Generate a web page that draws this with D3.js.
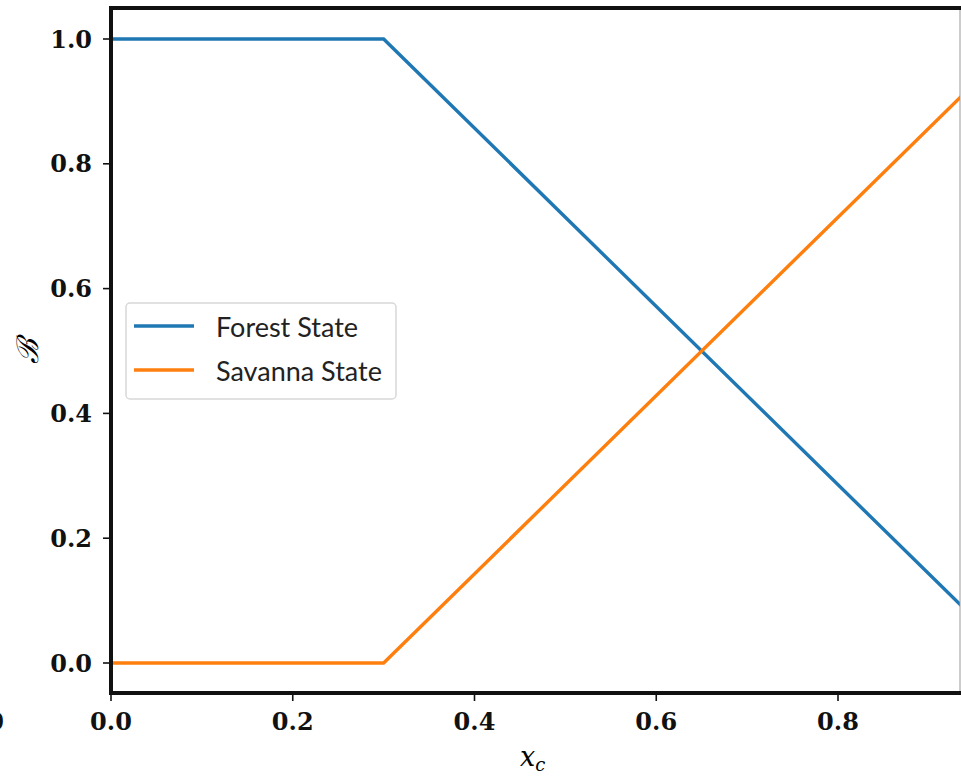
<!DOCTYPE html>
<html>
<head>
<meta charset="utf-8">
<script src="https://cdn.jsdelivr.net/npm/d3@7"></script>
<style>
  html, body { margin: 0; padding: 0; background: #fff; }
  svg { display: block; }
  .tick-lbl { font-family: "DejaVu Serif", serif; font-weight: bold; font-size: 24px; fill: #111; }
  .leg { font-family: Lato, "Open Sans", sans-serif; font-size: 27px; fill: #222; }
</style>
</head>
<body>
<svg id="c" width="961" height="778"></svg>
<script>
// data
const xc       = [0, 0.3, 1.0];
const forest   = [1, 1, 0];
const savanna  = [0, 0, 1];
const xTicks   = [0, 0.2, 0.4, 0.6, 0.8];
const yTicks   = [0, 0.2, 0.4, 0.6, 0.8, 1.0];
const series   = [
  { name: 'Forest State',  vals: forest,  color: '#1f77b4' },
  { name: 'Savanna State', vals: savanna, color: '#ff7f0e' }
];

const svg = d3.select('#c');
const L = 111, R = 960, T = 8, B = 693;

const x = d3.scaleLinear().domain([0, 0.8]).range([L, 838]);
const y = d3.scaleLinear().domain([0, 1]).range([663, 39]);

svg.append('clipPath').attr('id', 'pane')
  .append('rect').attr('x', L).attr('y', T).attr('width', R - L).attr('height', B - T);

const line = d3.line().x((d, i) => x(xc[i])).y(d => y(d));
const g = svg.append('g').attr('clip-path', 'url(#pane)');
series.forEach(s => {
  g.append('path').datum(s.vals)
    .attr('fill', 'none').attr('stroke', s.color).attr('stroke-width', 3.4)
    .attr('stroke-linejoin', 'miter').attr('d', line);
});

// ticks + labels
yTicks.forEach(v => {
  svg.append('line').attr('x1', L - 8).attr('x2', L).attr('y1', y(v)).attr('y2', y(v))
    .attr('stroke', '#111').attr('stroke-width', 1.6);
  svg.append('text').attr('class', 'tick-lbl').attr('x', 92).attr('y', y(v))
    .attr('text-anchor', 'end').attr('dominant-baseline', 'central').text(v.toFixed(1));
});
xTicks.forEach(v => {
  svg.append('line').attr('x1', x(v)).attr('x2', x(v)).attr('y1', B).attr('y2', B + 8)
    .attr('stroke', '#111').attr('stroke-width', 1.6);
  svg.append('text').attr('class', 'tick-lbl').attr('x', x(v)).attr('y', 730)
    .attr('text-anchor', 'middle').text(v.toFixed(1));
});
// cut-off label from the neighbouring panel
svg.append('text').attr('class', 'tick-lbl').attr('x', 4).attr('y', 730)
  .attr('text-anchor', 'end').text('1.0');

// frame
svg.append('line').attr('x1', R).attr('x2', R).attr('y1', T).attr('y2', B).attr('stroke', '#999').attr('stroke-width', 1);
svg.append('path').attr('d', `M${R + 2},${T}H${L}V${B}H${R + 2}`)
  .attr('fill', 'none').attr('stroke', '#111').attr('stroke-width', 4);

// axis labels
svg.append('text').attr('x', 520).attr('y', 766)
  .style('font-family', '"DejaVu Serif", serif').style('font-style', 'italic').style('font-size', '27px')
  .text('x').append('tspan').attr('dy', 5).style('font-size', '18px').text('c');
svg.append('text').attr('transform', 'translate(38,351) rotate(-90)')
  .attr('text-anchor', 'middle')
  .style('font-family', '"DejaVu Serif", serif').style('font-style', 'italic').style('font-size', '30px')
  .text('\u212C');

// legend
const lg = svg.append('g');
lg.append('rect').attr('x', 126).attr('y', 303).attr('width', 270).attr('height', 96).attr('rx', 4)
  .attr('fill', '#fff').attr('fill-opacity', 0.85).attr('stroke', '#d8d8d8').attr('stroke-width', 1.5);
series.forEach((s, i) => {
  const yy = 326 + i * 44;
  lg.append('line').attr('x1', 134).attr('x2', 194).attr('y1', yy).attr('y2', yy)
    .attr('stroke', s.color).attr('stroke-width', 3.4);
  lg.append('text').attr('class', 'leg').attr('x', 216).attr('y', yy)
    .attr('dominant-baseline', 'central').text(s.name);
});
</script>
</body>
</html>
